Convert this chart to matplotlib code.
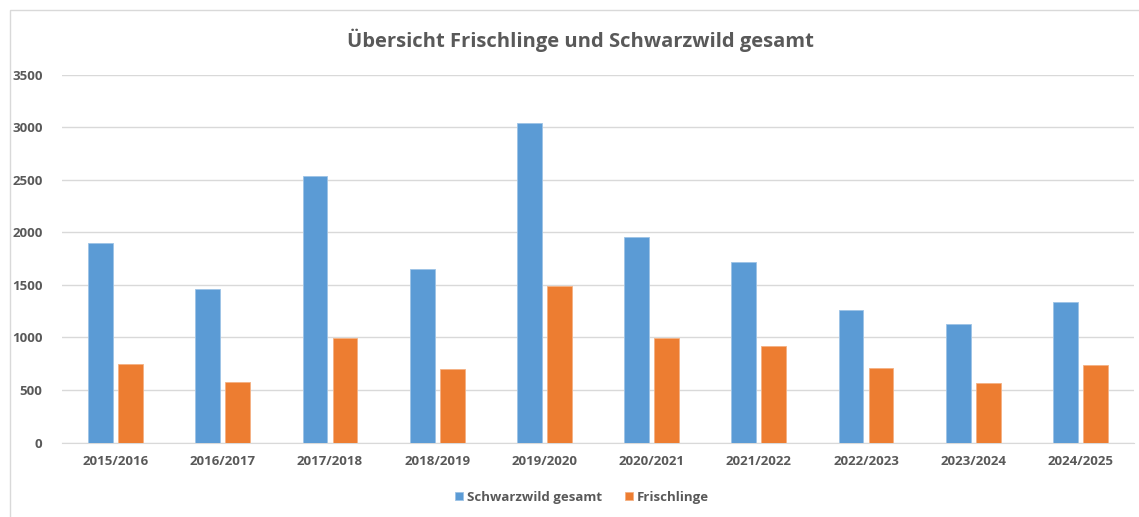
import numpy as np
import matplotlib
matplotlib.use("Agg")
import matplotlib.pyplot as plt
from matplotlib.patches import Rectangle

# values
seasons = ["2015/2016", "2016/2017", "2017/2018", "2018/2019", "2019/2020",
           "2020/2021", "2021/2022", "2022/2023", "2023/2024", "2024/2025"]
schwarzwild = [1895, 1462, 2538, 1655, 3040, 1955, 1718, 1265, 1127, 1338]
frischlinge = [745, 572, 992, 695, 1487, 992, 915, 705, 568, 742]

blue = "#5B9BD5"
orange = "#ED7D31"
grey = "#595959"

plt.rcParams['font.family'] = ['Open Sans', 'DejaVu Sans']

fig = plt.figure(figsize=(11.39, 5.17), dpi=100)
ax = fig.add_axes([62 / 1139, 1 - 442.5 / 517, (1134 - 62) / 1139, (442.5 - 74.7) / 517])

x = np.arange(len(seasons))
w = 0.23
ax.bar(x - 0.14, schwarzwild, w, color=blue, edgecolor="#9DC3E6", linewidth=0.6,
       label="Schwarzwild gesamt", zorder=3)
ax.bar(x + 0.14, frischlinge, w, color=orange, edgecolor="#F4B183", linewidth=0.6,
       label="Frischlinge", zorder=3)

ax.set_xlim(-0.5, len(seasons) - 0.5)
ax.set_ylim(0, 3500)
ax.set_yticks(np.arange(0, 3501, 500))
ax.set_xticks(x)
ax.set_xticklabels(seasons)
ax.grid(axis="y", color="#D9D9D9", linewidth=1.0, zorder=0)
for s in ["top", "right", "left"]:
    ax.spines[s].set_visible(False)
ax.spines["bottom"].set_color("#D9D9D9")
ax.tick_params(length=0, colors=grey, labelsize=9.5)
ax.tick_params(axis="y", pad=14)
ax.tick_params(axis="x", pad=9)
for lbl in ax.get_xticklabels() + ax.get_yticklabels():
    lbl.set_fontweight("bold")

fig.text(0.51, 1 - 40 / 517, "Übersicht Frischlinge und Schwarzwild gesamt",
         ha="center", va="center", fontsize=14.5, fontweight="bold", color=grey)

leg = fig.legend(loc="center", bbox_to_anchor=(0.511, 1 - 497 / 517), ncol=2,
                 frameon=False, handlelength=0.6, handleheight=0.6,
                 handletextpad=0.3, columnspacing=1.8, prop={"size": 9.5, "weight": "bold"})
for t in leg.get_texts():
    t.set_color(grey)

# chart border
fig.patches.append(Rectangle((10 / 1139, -0.02), 1.05, 1 - 10 / 517 + 0.02,
                             transform=fig.transFigure, fill=False,
                             edgecolor="#D9D9D9", linewidth=1.0))

fig.savefig("out.png", dpi=100)
